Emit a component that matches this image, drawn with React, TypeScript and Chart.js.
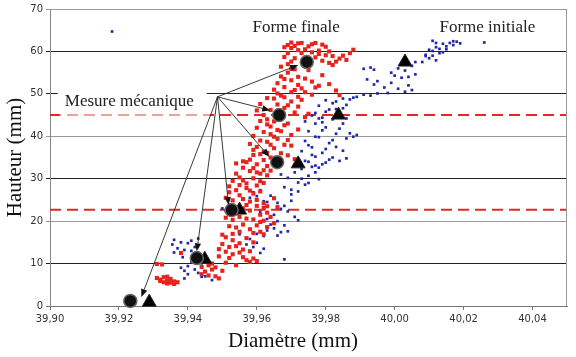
import React, { useEffect, useRef } from 'react';
import { Chart, registerables } from 'chart.js';
Chart.register(...registerables);

const xTicks = [39.9, 39.92, 39.94, 39.96, 39.98, 40.0, 40.02, 40.04];
const yTicks = [0, 10, 20, 30, 40, 50, 60, 70];
const xTitle = 'Diamètre (mm)';
const yTitle = 'Hauteur (mm)';

// Forme finale (red)
const redPoints: [number, number][] = [
  [39.931, 9.9], [39.9325, 9.8], [39.931, 6.6], [39.932, 6.2], [39.933, 6.8], [39.933, 5.6], [39.934, 6.0], [39.934, 5.3],
  [39.935, 6.4], [39.935, 5.5], [39.936, 5.8], [39.936, 5.2], [39.937, 5.6], [39.932, 5.9], [39.934, 6.9], [39.938, 12.5],
  [39.944, 9.2], [39.945, 8.1], [39.946, 7.2], [39.947, 8.6], [39.948, 7.0], [39.949, 6.5], [39.946, 9.6], [39.95, 8.3],
  [39.944, 7.5], [39.947, 10.0], [39.948, 9.1],
  [39.95, 14.6], [39.951, 12.8], [39.952, 13.9], [39.953, 12.2], [39.954, 14.1], [39.955, 12.6], [39.956, 11.5], [39.957, 10.8],
  [39.958, 10.4], [39.959, 11.2], [39.96, 10.6], [39.952, 11.3], [39.955, 14.8], [39.95, 16.8], [39.951, 16.2], [39.953, 17.0],
  [39.949, 11.7], [39.951, 10.2], [39.954, 9.6], [39.956, 13.3], [39.958, 12.9], [39.953, 15.5], [39.959, 15.0], [39.949, 13.4],
  [39.954, 18.5], [39.956, 19.2], [39.955, 21.0], [39.957, 16.0], [39.958, 18.1], [39.959, 20.4], [39.96, 19.0], [39.961, 21.5],
  [39.962, 20.1], [39.963, 22.0], [39.958, 22.5], [39.957, 23.8], [39.961, 17.5], [39.962, 16.9], [39.964, 21.0], [39.953, 20.3],
  [39.956, 23.0], [39.96, 23.6],
  [39.952, 18.8], [39.955, 17.5], [39.957, 20.6], [39.959, 17.2], [39.961, 19.8], [39.963, 18.6], [39.954, 21.8], [39.962, 23.1],
  [39.965, 19.5], [39.951, 20.8],
  [39.951, 25.5], [39.952, 26.8], [39.953, 24.9], [39.954, 27.3], [39.955, 26.1], [39.956, 25.2], [39.957, 27.8], [39.958, 24.6],
  [39.959, 26.5], [39.96, 25.0], [39.961, 27.0], [39.962, 24.2], [39.963, 23.5], [39.954, 23.2], [39.965, 25.4], [39.966, 23.3],
  [39.953, 29.5], [39.954, 31.2], [39.955, 30.3], [39.956, 32.6], [39.957, 28.9], [39.958, 31.8], [39.959, 30.1], [39.96, 33.4],
  [39.961, 29.4], [39.958, 34.5], [39.96, 31.5], [39.962, 32.0], [39.955, 28.5], [39.957, 33.9], [39.963, 30.8], [39.964, 35.0],
  [39.959, 35.6],
  [39.952, 28.2], [39.956, 29.6], [39.958, 27.2], [39.96, 28.4], [39.962, 29.0], [39.961, 31.2], [39.963, 33.0], [39.956, 34.1],
  [39.959, 32.5], [39.954, 33.6], [39.962, 34.4], [39.964, 31.9],
  [39.958, 38.2], [39.959, 40.1], [39.96, 37.5], [39.961, 39.0], [39.962, 36.4], [39.963, 38.7], [39.964, 40.5], [39.965, 37.2],
  [39.966, 39.4], [39.967, 36.0], [39.968, 38.0], [39.969, 35.5], [39.97, 37.8], [39.971, 34.6], [39.966, 41.5], [39.964, 42.3],
  [39.962, 41.0], [39.96, 42.0],
  [39.959, 36.8], [39.961, 35.8], [39.963, 36.1], [39.965, 39.9], [39.967, 41.2], [39.968, 42.6], [39.97, 40.3], [39.966, 43.9],
  [39.963, 42.8], [39.961, 43.6], [39.969, 39.1], [39.972, 41.6], [39.964, 38.0],
  [39.963, 44.0], [39.964, 46.2], [39.965, 43.5], [39.966, 47.5], [39.967, 44.8], [39.968, 46.7], [39.969, 43.0], [39.97, 48.2],
  [39.971, 45.6], [39.972, 47.0], [39.974, 44.5], [39.975, 45.3], [39.965, 48.9], [39.967, 49.6], [39.97, 50.4], [39.972, 49.3],
  [39.962, 45.0], [39.96, 46.1],
  [39.961, 47.6], [39.963, 49.0], [39.965, 51.0], [39.968, 49.2], [39.969, 47.3], [39.973, 48.6], [39.966, 50.1], [39.968, 53.5],
  [39.97, 55.9], [39.972, 54.0], [39.974, 53.6], [39.976, 49.8], [39.978, 51.9],
  [39.966, 52.5], [39.967, 54.1], [39.968, 51.6], [39.969, 55.0], [39.97, 53.2], [39.971, 50.9], [39.972, 52.1], [39.973, 51.3],
  [39.967, 56.4], [39.969, 57.0], [39.974, 50.4], [39.976, 52.9], [39.975, 55.6], [39.971, 55.8], [39.977, 51.5],
  [39.968, 61.0], [39.969, 61.5], [39.97, 60.8], [39.971, 61.3], [39.972, 61.9], [39.974, 60.5], [39.975, 61.2], [39.976, 59.8],
  [39.977, 58.6], [39.978, 60.2], [39.979, 57.8], [39.98, 59.1], [39.981, 57.3], [39.982, 56.8], [39.983, 57.6], [39.984, 58.3],
  [39.985, 59.0], [39.986, 58.0], [39.973, 59.6], [39.977, 62.0], [39.968, 58.7], [39.97, 57.6], [39.98, 61.1], [39.987, 59.6],
  [39.988, 60.4], [39.979, 54.4], [39.981, 52.3], [39.983, 50.8], [39.984, 49.7],
  [39.969, 59.6], [39.971, 58.4], [39.972, 60.3], [39.973, 62.0], [39.975, 58.3], [39.976, 61.7], [39.978, 59.4], [39.979, 61.6],
  [39.981, 60.0], [39.982, 58.9], [39.97, 62.1], [39.974, 57.4],
];

// Forme initiale (blue)
const bluePoints: [number, number][] = [
  [39.9355, 14.5], [39.936, 15.6], [39.937, 13.6], [39.938, 15.0], [39.939, 13.2], [39.94, 14.8], [39.941, 15.4], [39.942, 13.9],
  [39.943, 15.9], [39.938, 9.0], [39.939, 8.3], [39.94, 7.5], [39.939, 6.5], [39.942, 8.6], [39.943, 7.8], [39.944, 6.9],
  [39.945, 8.2], [39.946, 7.2], [39.947, 6.1], [39.944, 9.5], [39.9385, 11.5], [39.941, 10.5],
  [39.936, 12.6], [39.941, 13.0], [39.94, 9.4], [39.945, 7.0],
  [39.957, 14.5], [39.958, 15.8], [39.959, 13.9], [39.96, 14.9], [39.962, 16.5], [39.963, 17.8], [39.964, 19.2], [39.965, 18.3],
  [39.966, 16.6], [39.967, 17.4], [39.969, 17.6], [39.968, 11.0], [39.961, 12.5], [39.955, 16.9], [39.963, 20.5],
  [39.96, 17.0], [39.962, 13.5], [39.966, 20.0], [39.968, 19.0],
  [39.95, 23.0], [39.951, 22.4], [39.958, 25.5], [39.959, 26.8], [39.96, 25.9], [39.961, 27.3], [39.962, 24.7], [39.966, 24.3],
  [39.967, 22.9], [39.968, 23.6], [39.969, 22.3], [39.97, 24.8], [39.964, 26.0], [39.965, 21.5], [39.971, 21.0], [39.972, 20.2],
  [39.961, 22.2], [39.963, 24.5], [39.97, 26.3], [39.972, 27.0],
  [39.968, 28.0], [39.969, 30.2], [39.97, 27.4], [39.971, 31.5], [39.972, 29.1], [39.973, 32.3], [39.974, 28.6], [39.975, 30.7],
  [39.976, 32.8], [39.977, 33.1], [39.978, 32.6], [39.979, 33.4], [39.967, 31.0], [39.974, 34.2], [39.976, 35.6],
  [39.973, 30.0], [39.975, 29.0], [39.977, 31.5], [39.978, 29.9], [39.972, 33.8],
  [39.973, 36.5], [39.974, 38.9], [39.975, 41.2], [39.976, 37.4], [39.977, 43.0], [39.978, 39.8], [39.979, 36.1], [39.98, 42.1],
  [39.981, 38.4], [39.982, 35.0], [39.983, 40.6], [39.984, 34.2], [39.985, 36.6], [39.986, 39.5], [39.987, 40.7], [39.988, 39.9],
  [39.989, 40.3], [39.975, 34.0], [39.977, 35.2], [39.98, 33.8], [39.982, 44.0], [39.981, 34.5],
  [39.975, 37.9], [39.977, 39.9], [39.979, 41.4], [39.98, 37.0], [39.982, 39.1], [39.984, 41.8], [39.983, 37.5], [39.986, 34.8],
  [39.977, 45.5], [39.978, 47.2], [39.979, 44.4], [39.98, 48.5], [39.981, 46.3], [39.982, 47.8], [39.983, 48.2], [39.984, 45.3],
  [39.985, 43.0], [39.986, 44.2], [39.985, 48.9], [39.987, 48.7], [39.989, 49.3], [39.991, 49.8], [39.993, 49.6], [39.995, 50.1],
  [39.976, 44.9], [39.978, 44.2], [39.98, 45.8], [39.983, 46.4], [39.986, 47.4], [39.988, 49.1], [39.979, 43.3], [39.985, 46.6],
  [39.974, 43.5],
  [39.991, 55.9], [39.993, 56.2], [39.994, 55.7], [39.992, 53.4], [39.995, 53.0], [39.998, 50.2], [39.999, 52.6], [40.0, 54.3],
  [40.001, 51.2], [40.002, 53.8], [40.003, 55.5], [40.004, 52.0], [40.005, 56.6], [40.006, 54.6], [40.003, 50.5], [40.005, 50.9],
  [40.002, 56.9], [39.997, 51.5], [39.999, 55.0], [40.001, 56.0], [40.004, 54.0], [39.994, 52.2],
  [40.008, 57.5], [40.009, 59.2], [40.01, 58.4], [40.011, 60.1], [40.012, 57.9], [40.013, 59.6], [40.012, 61.0], [40.013, 60.6],
  [40.014, 61.8], [40.015, 61.2], [40.016, 62.0], [40.017, 61.5], [40.018, 62.3], [40.019, 61.9], [40.011, 62.5], [40.026, 62.1],
  [40.01, 60.4], [40.014, 59.8], [40.006, 57.5], [40.009, 58.9], [40.011, 59.0], [40.015, 60.5], [40.012, 62.0], [40.017, 62.4],
  [39.918, 64.7],
];

// mean markers
const finalMeanX = [39.9233, 39.9426, 39.9527, 39.9659, 39.9665, 39.9745];
const finalMeanY = [1.2, 11.3, 22.6, 33.9, 45.0, 57.5];
const initMeanX = [39.9288, 39.9449, 39.955, 39.972, 39.9837, 40.003];
const initMeanY = [0.9, 11.0, 22.6, 33.5, 45.0, 57.5];

// mechanical measurement levels (dashed red)
const levelLines = [45, 22.7];

// arrows from label
const arrowOrigin: [number, number] = [39.9486, 49.3];
const arrowTargets: [number, number][] = [
  [39.9265, 2.1], [39.9426, 12.9], [39.9518, 23.8], [39.9636, 35.2], [39.9639, 46.1], [39.972, 56.8],
];

const labelTexts = ['Forme finale', 'Forme initiale', 'Mesure mécanique'];
const labelX = [39.9714, 40.0269, 39.9043];
const labelY = [65.6, 65.6, 48.3];

const serif = '"Liberation Serif", "Times New Roman", serif';

const annotPlugin = {
  id: 'annot',
  beforeDatasetsDraw(chart: any) {
    const { ctx, scales } = chart;
    const x = scales.x, y = scales.y;
    ctx.save();
    ctx.font = '17px ' + serif;
    ctx.textBaseline = 'middle';
    const lx = x.getPixelForValue(labelX[2]);
    const ly = y.getPixelForValue(labelY[2]);
    const w = ctx.measureText(labelTexts[2]).width;
    ctx.fillStyle = '#ffffff';
    ctx.fillRect(lx - 7, ly - 11, w + 20, 20);
    ctx.fillStyle = '#222';
    ctx.textAlign = 'left';
    ctx.fillText(labelTexts[2], lx, ly);
    ctx.textAlign = 'center';
    for (let i = 0; i < 2; i++) {
      ctx.fillText(labelTexts[i], x.getPixelForValue(labelX[i]), y.getPixelForValue(labelY[i]));
    }
    ctx.font = '21px ' + serif;
    ctx.fillStyle = '#111';
    ctx.fillText(xTitle, x.getPixelForValue(39.9705), x.bottom - 16);
    ctx.restore();
  },
  afterDatasetsDraw(chart: any) {
    const { ctx, chartArea, scales } = chart;
    const x = scales.x, y = scales.y;
    ctx.save();
    // lighten the dashed level line where it passes under the label
    const lx = x.getPixelForValue(labelX[2]);
    const ly45 = y.getPixelForValue(levelLines[0]);
    ctx.fillStyle = 'rgba(255,255,255,0.55)';
    ctx.fillRect(lx - 5, ly45 - 2, 150, 4);
    const ox = x.getPixelForValue(arrowOrigin[0]);
    const oy = y.getPixelForValue(arrowOrigin[1]);
    ctx.strokeStyle = '#222';
    ctx.fillStyle = '#111';
    ctx.lineWidth = 0.9;
    for (const t of arrowTargets) {
      const tx = x.getPixelForValue(t[0]);
      const ty = y.getPixelForValue(t[1]);
      const ang = Math.atan2(ty - oy, tx - ox);
      const hl = 8, hw = 3.2;
      const bx = tx - hl * Math.cos(ang), by = ty - hl * Math.sin(ang);
      ctx.beginPath();
      ctx.moveTo(ox, oy);
      ctx.lineTo(bx, by);
      ctx.stroke();
      ctx.beginPath();
      ctx.moveTo(tx, ty);
      ctx.lineTo(bx + hw * Math.sin(ang), by - hw * Math.cos(ang));
      ctx.lineTo(bx - hw * Math.sin(ang), by + hw * Math.cos(ang));
      ctx.closePath();
      ctx.fill();
    }
    ctx.strokeStyle = '#999';
    ctx.lineWidth = 1;
    ctx.beginPath();
    ctx.moveTo(chartArea.left, chartArea.top + 0.5);
    ctx.lineTo(chartArea.right - 0.5, chartArea.top + 0.5);
    ctx.lineTo(chartArea.right - 0.5, chartArea.bottom);
    ctx.stroke();
    ctx.restore();
  },
};

const darkLevels = [10, 30, 50, 60];

export default function App() {
  const ref = useRef<HTMLCanvasElement | null>(null);
  useEffect(() => {
    document.body.style.margin = '0';
    const canvas = ref.current;
    if (!canvas) return;
    const chart = new Chart(canvas, {
      type: 'scatter',
      data: {
        datasets: [
          {
            label: 'Forme finale (moy.)',
            data: finalMeanX.map((v, i) => ({ x: v, y: finalMeanY[i] })),
            pointStyle: 'circle',
            pointRadius: 6.5,
            backgroundColor: '#111',
            borderColor: '#666',
            borderWidth: 1.5,
            order: 0,
            clip: false,
          } as any,
          {
            label: 'Forme initiale (moy.)',
            data: initMeanX.map((v, i) => ({ x: v, y: initMeanY[i] })),
            pointStyle: 'triangle',
            pointRadius: 8,
            backgroundColor: '#000',
            borderColor: '#222',
            borderWidth: 1,
            order: 0,
            clip: false,
          } as any,
          {
            label: 'Forme finale',
            data: redPoints.map(p => ({ x: p[0], y: p[1] })),
            pointStyle: 'rect',
            pointRadius: 2.9,
            backgroundColor: '#e8231e',
            borderWidth: 0,
            order: 1,
          },
          {
            label: 'Forme initiale',
            data: bluePoints.map(p => ({ x: p[0], y: p[1] })),
            pointStyle: 'rect',
            pointRadius: 1.9,
            backgroundColor: '#1f28a8',
            borderWidth: 0,
            order: 2,
          },
          ...levelLines.map(v => ({
            type: 'line' as const,
            label: 'Mesure ' + v,
            data: [{ x: xTicks[0], y: v }, { x: 40.05, y: v }],
            borderColor: '#e02a22',
            borderWidth: 2,
            borderDash: [11, 6],
            pointRadius: 0,
            fill: false,
            order: 3,
          })),
        ],
      },
      options: {
        animation: false,
        responsive: true,
        maintainAspectRatio: false,
        layout: { padding: { top: 3, right: 2, left: 0, bottom: 0 } },
        plugins: { legend: { display: false }, tooltip: { enabled: false } },
        scales: {
          x: {
            type: 'linear',
            min: 39.9,
            max: 40.05,
            afterFit: (s: any) => { s.height = 51; },
            afterBuildTicks: (s: any) => { s.ticks = xTicks.map(v => ({ value: v })); },
            ticks: {
              callback: (v: any) => Number(v).toFixed(2).replace('.', ','),
              font: { family: '"DejaVu Sans", sans-serif', size: 10 },
              color: '#333',
              padding: 3,
              maxRotation: 0,
            },
            grid: { drawOnChartArea: false, tickLength: 4, color: '#777' },
            border: { color: '#777', width: 1 },
            title: { display: false },
          },
          y: {
            type: 'linear',
            min: 0,
            max: 70,
            afterFit: (s: any) => { s.width = 50; },
            afterBuildTicks: (s: any) => { s.ticks = yTicks.map(v => ({ value: v })); },
            ticks: {
              font: { family: '"DejaVu Sans", sans-serif', size: 10 },
              color: '#333',
              padding: 3,
            },
            grid: {
              tickLength: 4,
              color: (c: any) => {
                const v = c.tick ? c.tick.value : 0;
                if (darkLevels.includes(v)) return '#222';
                if (v === 0) return '#777';
                return '#999';
              },
            },
            border: { color: '#888', width: 1 },
            title: {
              display: true,
              text: yTitle,
              font: { family: serif, size: 21 },
              color: '#111',
              padding: { top: 3, bottom: 0 },
            },
          },
        },
      },
      plugins: [annotPlugin],
    } as any);
    return () => chart.destroy();
  }, []);
  return (
    <div style={{ position: 'absolute', left: 0, top: 0, width: 576, height: 357 }}>
      <canvas ref={ref} />
    </div>
  );
}
